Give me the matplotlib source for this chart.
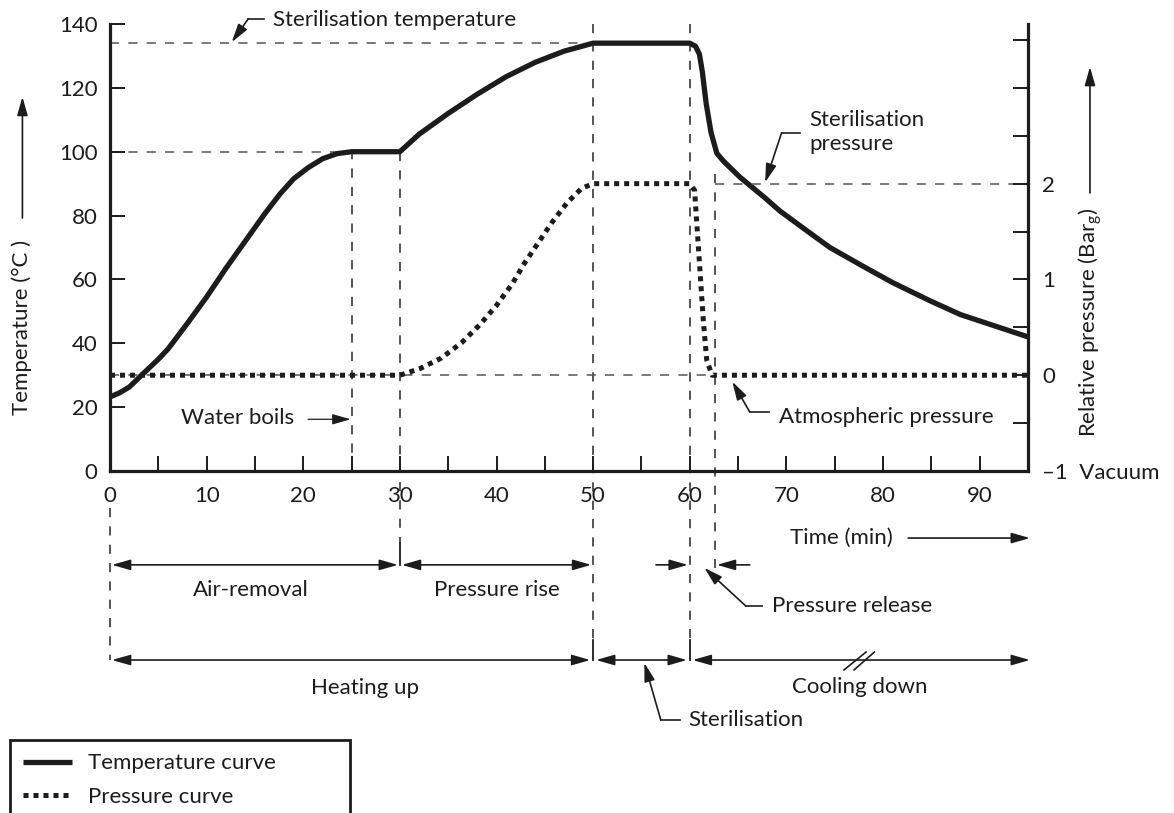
import matplotlib
matplotlib.use("Agg")
import matplotlib.pyplot as plt
import numpy as np

plt.rcParams['font.family'] = ['Lato', 'DejaVu Sans']
plt.rcParams['font.size'] = 16
plt.rcParams['mathtext.fontset'] = 'custom'
plt.rcParams['mathtext.rm'] = 'Lato'
plt.rcParams['mathtext.it'] = 'Lato:italic'
plt.rcParams['mathtext.bf'] = 'Lato:bold'

# ---------------- data ----------------
time_temp = [0, 1, 2, 3.4, 5, 6, 8, 10, 12, 14, 16, 17.6, 19, 20.5, 22, 23.5, 25,
             30, 32, 35, 38, 41, 44, 47, 50,
             60, 60.6, 61.0, 61.3, 61.7, 62.2, 62.8, 63.5, 65.2, 67.8, 69.3, 72,
             74.5, 78, 81, 84.8, 88, 91.5, 95]
temperature = [23.2, 24.5, 26.3, 30.4, 35, 38.2, 46.2, 54.5, 63.5, 72, 80.5, 86.8, 91.5, 95, 97.8, 99.4, 100,
               100, 105.5, 112, 118, 123.5, 128, 131.5, 134,
               134, 133, 130.5, 125, 115, 106, 99.5, 97, 92, 85.5, 81.5, 75.5,
               70, 64, 59, 53.4, 49, 45.5, 42]

time_pres = [0, 30, 32.1, 34.3, 36.4, 38.3, 40, 41.6, 42.9, 44.3, 45.7, 47.3, 48.8, 50,
             60, 60.5, 60.7, 61.05, 61.4, 61.75, 62.3, 95]
pressure = [0, 0, 0.07, 0.18, 0.34, 0.53, 0.73, 0.95, 1.17, 1.38, 1.59, 1.80, 1.95, 2.0,
            2.0, 1.93, 1.62, 1.1, 0.57, 0.16, 0.0, 0.0]

x_major = [0, 10, 20, 30, 40, 50, 60, 70, 80, 90]
x_minor = [5, 15, 25, 35, 45, 55, 65, 75, 85]
y_left = [0, 20, 40, 60, 80, 100, 120, 140]
p_ticks = [-1, -0.5, 0, 0.5, 1, 1.5, 2, 2.5, 3, 3.5]
p_labels = {-1: '\u20131  Vacuum', 0: '0', 1: '1', 2: '2'}

steril_temp = 134
boil_temp = 100
steril_pres = 2.0
t_boil, t_air_end, t_rise_end, t_steril_end, t_release_end, t_end = 25, 30, 50, 60, 62.6, 95

# ---------------- figure ----------------
W, H = 1174, 813
fig = plt.figure(figsize=(W / 100, H / 100), dpi=100)
ax = fig.add_axes([110 / W, (H - 471) / H, 918 / W, 447 / H])
ax.set_xlim(0, 95)
ax.set_ylim(0, 140)
ax2 = ax.twinx()
ax2.set_ylim(-1, 110 / 30)

ink = '#1c1c1c'
for a in (ax, ax2):
    for s in a.spines.values():
        s.set_linewidth(2.3)
        s.set_color(ink)
    a.spines['top'].set_visible(False)
ax.spines['right'].set_visible(False)
ax2.spines['left'].set_visible(False)
ax2.spines['bottom'].set_visible(False)

ax.set_xticks(x_major)
ax.set_xticks(x_minor, minor=True)
ax.set_yticks(y_left)
ax.tick_params(axis='both', which='both', direction='in', length=11, width=1.4, color=ink,
               labelcolor=ink, labelsize=16)
ax.tick_params(axis='x', which='both', pad=11)
ax.tick_params(axis='y', pad=9)
ax2.set_yticks(p_ticks)
ax2.set_yticklabels([p_labels.get(v, '') for v in p_ticks])
ax2.tick_params(axis='y', direction='in', length=11, width=1.4, color=ink, labelcolor=ink,
                labelsize=16, pad=10)

# ---------------- reference dashed lines ----------------
dash_v = dict(color='#262626', lw=1.1, dashes=(6, 6), clip_on=False, zorder=1)
dash_h = dict(color='#555555', lw=1.1, dashes=(6, 6), clip_on=False, zorder=1)
ax.plot([0, t_rise_end], [steril_temp, steril_temp], **dash_h)
ax.plot([0, t_boil], [boil_temp, boil_temp], **dash_h)
ax2.plot([0, 62.0], [0, 0], **dash_h)
ax2.plot([t_release_end, t_end], [steril_pres, steril_pres], **dash_h)

ax.plot([0, 0], [-11.6, -59.2], **dash_v)
ax.plot([t_boil, t_boil], [0, 100], **dash_v)
ax.plot([t_air_end, t_air_end], [100, -22.5], **dash_v)
ax.plot([t_rise_end, t_rise_end], [140, -52.9], **dash_v)
ax.plot([t_steril_end, t_steril_end], [140, -52.9], **dash_v)
ax.plot([t_release_end, t_release_end], [93, -30.5], **dash_v)

# solid end ticks
solid = dict(color=ink, lw=1.3, clip_on=False)
ax.plot([t_air_end, t_air_end], [-22.5, -29.4], **solid)
ax.plot([t_rise_end, t_rise_end], [-52.9, -59.2], **solid)
ax.plot([t_steril_end, t_steril_end], [-52.9, -59.2], **solid)

# ---------------- curves ----------------
lT, = ax.plot(time_temp, temperature, color=ink, lw=3.8, solid_joinstyle='round',
              solid_capstyle='butt', zorder=5, label='Temperature curve')
lP, = ax2.plot(time_pres, pressure, color=ink, lw=3.6, linestyle=(0, (1, 1)),
               dash_capstyle='butt', zorder=5, label='Pressure curve')

# ---------------- annotations ----------------
AH = '-|>,head_length=0.7,head_width=0.2'
DH = '<|-|>,head_length=0.7,head_width=0.2'


def arrow(a, x0, y0, x1, y1, style=AH, lw=1.2, xycoords='data'):
    a.annotate('', xy=(x1, y1), xytext=(x0, y0), xycoords=xycoords, textcoords=xycoords,
               arrowprops=dict(arrowstyle=style, lw=lw, color=ink, shrinkA=0, shrinkB=0,
                               mutation_scale=16),
               annotation_clip=False)


def leader(a, xs, ys):
    a.plot(xs, ys, color=ink, lw=1.2, clip_on=False)


# Sterilisation temperature
ax.text(16.9, 141.4, 'Sterilisation temperature', ha='left', va='center', color=ink)
leader(ax, [15.9, 14.3], [141.6, 141.6])
arrow(ax, 14.3, 141.6, 12.6, 134.3)

# Sterilisation pressure
ax.text(72.4, 106.2, 'Sterilisation\npressure', ha='left', va='center', color=ink,
        linespacing=1.25)
leader(ax, [71.4, 69.5], [105.9, 105.9])
arrow(ax, 69.5, 105.9, 67.8, 90.4)

# Water boils
ax.text(7.3, 16.6, 'Water boils', ha='left', va='center', color=ink)
arrow(ax, 20.5, 16.2, 24.9, 16.2, lw=0.9)

# Atmospheric pressure
ax.text(69.2, 16.9, 'Atmospheric pressure', ha='left', va='center', color=ink)
leader(ax, [68.2, 66.2], [18.5, 18.5])
arrow(ax, 66.2, 18.5, 64.4, 28.0)

# Time label
ax.text(70.4, -21.0, 'Time (min)', ha='left', va='center', color=ink)
arrow(ax, 82.6, -21.0, 95.2, -21.0)

# axis labels with arrows
ax.set_ylabel('Temperature (\u00b0C )', va='center', color=ink, fontsize=16)
ax.yaxis.set_label_coords(-0.0959, 0.321)
arrow(ax, -0.0954, 0.566, -0.0954, 0.837, xycoords='axes fraction')
ax2.set_ylabel('Relative pressure (Bar$_{\\mathrm{g}}$)', rotation=90, va='center',
               color=ink, fontsize=16)
ax2.yaxis.set_label_coords(1.0675, 0.332)
arrow(ax, 1.0675, 0.622, 1.0675, 0.904, xycoords='axes fraction')

# Row 1 phases
r1 = -29.4
arrow(ax, 0.2, r1, 29.8, r1, style=DH)
arrow(ax, 30.2, r1, 49.8, r1, style=DH)
ax.text(14.6, -37.3, 'Air-removal', ha='center', va='center', color=ink)
ax.text(40.0, -37.3, 'Pressure rise', ha='center', va='center', color=ink)
arrow(ax, 56.5, r1, 59.8, r1)
arrow(ax, 66.2, r1, 62.8, r1)
ax.text(68.5, -42.3, 'Pressure release', ha='left', va='center', color=ink)
leader(ax, [67.5, 65.8], [-42.3, -42.3])
arrow(ax, 65.8, -42.3, 61.5, -30.3)

# Row 2 phases
r2 = -59.2
arrow(ax, 0.2, r2, 49.7, r2, style=DH)
arrow(ax, 50.3, r2, 59.7, r2, style=DH)
arrow(ax, 60.3, r2, 95.2, r2, style=DH)
ax.plot([75.96, 78.24], [-62.3, -56.7], color=ink, lw=1.2, clip_on=False)
ax.plot([77.0, 79.1], [-62.3, -56.7], color=ink, lw=1.2, clip_on=False)
ax.text(26.4, -68.0, 'Heating up', ha='center', va='center', color=ink)
ax.text(77.6, -67.7, 'Cooling down', ha='center', va='center', color=ink)
ax.text(59.8, -78.0, 'Sterilisation', ha='left', va='center', color=ink)
leader(ax, [59.0, 57.0], [-78.0, -78.0])
arrow(ax, 57.0, -78.0, 55.3, -60.1)

# legend
leg = fig.legend(handles=[lT, lP], loc='upper left',
                 bbox_to_anchor=(9.6 / W, 0, 340 / W, 1 - 740 / H), mode='expand',
                 frameon=True, fancybox=False, edgecolor=ink, framealpha=1,
                 borderaxespad=0, handlelength=2.2, handletextpad=0.75,
                 borderpad=0.6, labelspacing=0.62, fontsize=16)
leg.get_frame().set_linewidth(2.0)
for t in leg.get_texts():
    t.set_color(ink)

fig.savefig('out.png', dpi=100)
